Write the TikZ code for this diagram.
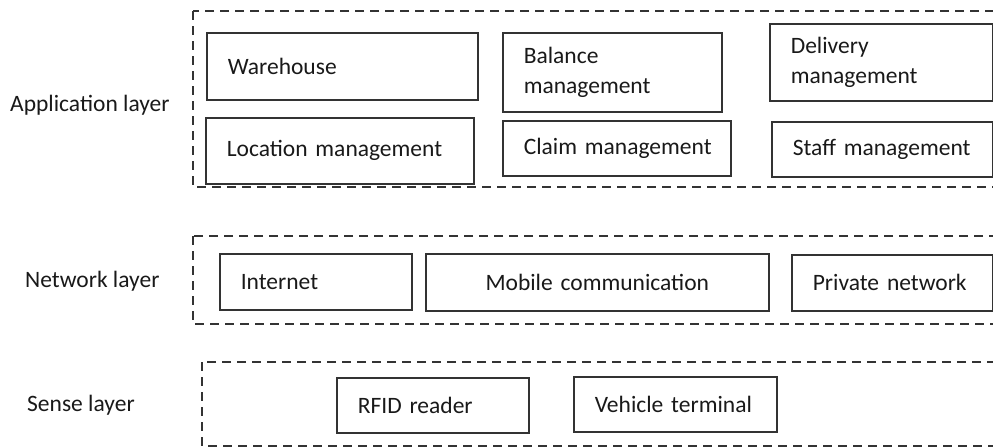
\documentclass[tikz,border=0pt]{standalone}
\usepackage{fontspec}
\setmainfont{Carlito}

\begin{document}
\begin{tikzpicture}[
    x=1pt, y=-1pt,
    % Style for the boxes inside a layer
    modBox/.style={
        draw=black!80,
        line width=1.6pt,
        anchor=north west,
        inner xsep=21pt,
        inner ysep=0pt,
        align=left,
        text=black!90,
        font=\fontsize{23.5}{30}\selectfont
    },
    % Style for the dashed layer frames
    layerFrame/.style={
        draw=black!80,
        line width=1.6pt,
        dash pattern=on 9pt off 6pt
    },
    % Style for the layer names on the left
    layerLabel/.style={
        anchor=west,
        inner sep=0pt,
        text=black!90,
        font=\fontsize{23.5}{28}\selectfont
    }
]

    \useasboundingbox (0,0) rectangle (993,447);
    \clip (0,0) rectangle (993,447);

    % --- LAYER FRAMES ---
    \draw[layerFrame] (193,11) rectangle (1010,187);
    \draw[layerFrame] (193,236) rectangle (1010,324);
    \draw[layerFrame] (202,362) rectangle (1010,446);

    % --- LAYER NAMES ---
    \node[layerLabel] (appLabel) at (10,105) {Application layer};
    \node[layerLabel] (netLabel) at (25,281) {Network layer};
    \node[layerLabel] (senLabel) at (27,405) {Sense layer};

    % --- APPLICATION LAYER ---
    \node[modBox, text width=229pt, minimum height=67pt] (wareBox) at (206,32) {Warehouse};
    \node[modBox, text width=177pt, minimum height=79pt] (balBox) at (502,32) {Balance\\management};
    \node[modBox, text width=181pt, minimum height=77pt] (delBox) at (769,23) {Delivery\\management};
    \node[modBox, text width=226pt, minimum height=66pt] (locBox) at (205,117) {\mbox{Location management}};
    \node[modBox, text width=186pt, minimum height=55pt] (claimBox) at (502,120) {\mbox{Claim management}};
    \node[modBox, text width=179pt, minimum height=55pt] (staffBox) at (771,121) {\mbox{Staff management}};

    % --- NETWORK LAYER ---
    \node[modBox, text width=150pt, minimum height=56pt] (netBox) at (219,253) {Internet};
    \node[modBox, text width=301pt, minimum height=57pt, align=center] (mobBox) at (425,253) {Mobile communication};
    \node[modBox, text width=159pt, minimum height=56pt] (privBox) at (791,254) {\mbox{Private network}};

    % --- SENSE LAYER ---
    \node[modBox, text width=150pt, minimum height=55pt] (rfidBox) at (336,377) {RFID reader};
    \node[modBox, text width=161pt, minimum height=55pt] (vehBox) at (573,376) {\mbox{Vehicle terminal}};

\end{tikzpicture}
\end{document}
